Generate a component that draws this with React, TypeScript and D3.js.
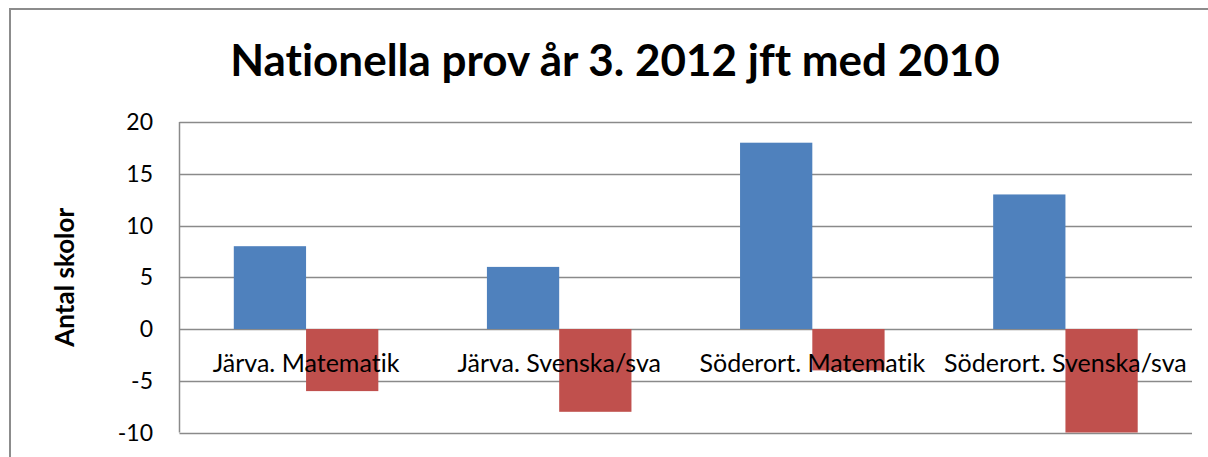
import React from "react";
import * as d3 from "d3";

const categories = ["Järva. Matematik", "Järva. Svenska/sva", "Söderort. Matematik", "Söderort. Svenska/sva"];
const series2012 = [8, 6, 18, 13];
const series2010 = [-6, -8, -4, -10];
const seriesNames = ["Ökat", "Minskat"];
const yTicks = [-10, -5, 0, 5, 10, 15, 20];
const colors = ["#4F81BD", "#C0504D"];

export default function App() {
  const W = 1208, H = 457;
  const left = 179.5, right = 1192, top = 122, bottom = 432.5;
  const y = d3.scaleLinear().domain([-10, 20]).range([bottom, top]);
  const x0 = d3.scaleBand<string>().domain(categories).range([left, right]).padding(0);
  const gap = x0.bandwidth() * 0.2145;
  const x1 = d3.scaleBand<string>().domain(seriesNames).range([gap, x0.bandwidth() - gap]).padding(0);
  const data = [series2012, series2010];
  const font = "Lato, 'Open Sans', sans-serif";
  return (
    <svg width={W} height={H} style={{ position: "absolute", left: 0, top: 0, background: "#fff", fontVariantLigatures: "none" }}>
      <rect x={0} y={0} width={W} height={H} fill="#fff" />
      <rect x={10} y={9} width={W + 20} height={H + 20} fill="none" stroke="#8c8c8c" strokeWidth={2} />
      <text x={615} y={76} textAnchor="middle" fontFamily={font} fontWeight={700} fontSize={44} fill="#000">
        Nationella prov år 3. 2012 jft med 2010
      </text>
      {yTicks.map((t) => (
        <g key={t}>
          <line x1={left} x2={right} y1={Math.round(y(t)) + 0.5} y2={Math.round(y(t)) + 0.5} stroke="#8a8a8a" strokeWidth={1.5} />
          <text x={153} y={y(t) + 8} textAnchor="end" fontFamily={font} fontSize={23} fill="#000">{t}</text>
        </g>
      ))}
      <line x1={left} x2={left} y1={top} y2={bottom} stroke="#8a8a8a" strokeWidth={1.5} />
      <text transform={`translate(74, ${(top + bottom) / 2}) rotate(-90)`} textAnchor="middle" fontFamily={font} fontWeight={700} fontSize={26} fill="#000">
        Antal skolor
      </text>
      {categories.map((c, i) => (
        <g key={c}>
          {data.map((s, j) => {
            const v = s[i];
            return (
              <rect key={j} x={(x0(c) as number) + (x1(seriesNames[j]) as number)} width={x1.bandwidth()}
                y={Math.min(y(v), y(0))} height={Math.abs(y(v) - y(0))} fill={colors[j]} />
            );
          })}
        </g>
      ))}
      {categories.map((c) => (
        <text key={c} x={(x0(c) as number) + x0.bandwidth() / 2} y={372} textAnchor="middle" fontFamily={font} fontSize={25} fill="#000">{c}</text>
      ))}
    </svg>
  );
}
